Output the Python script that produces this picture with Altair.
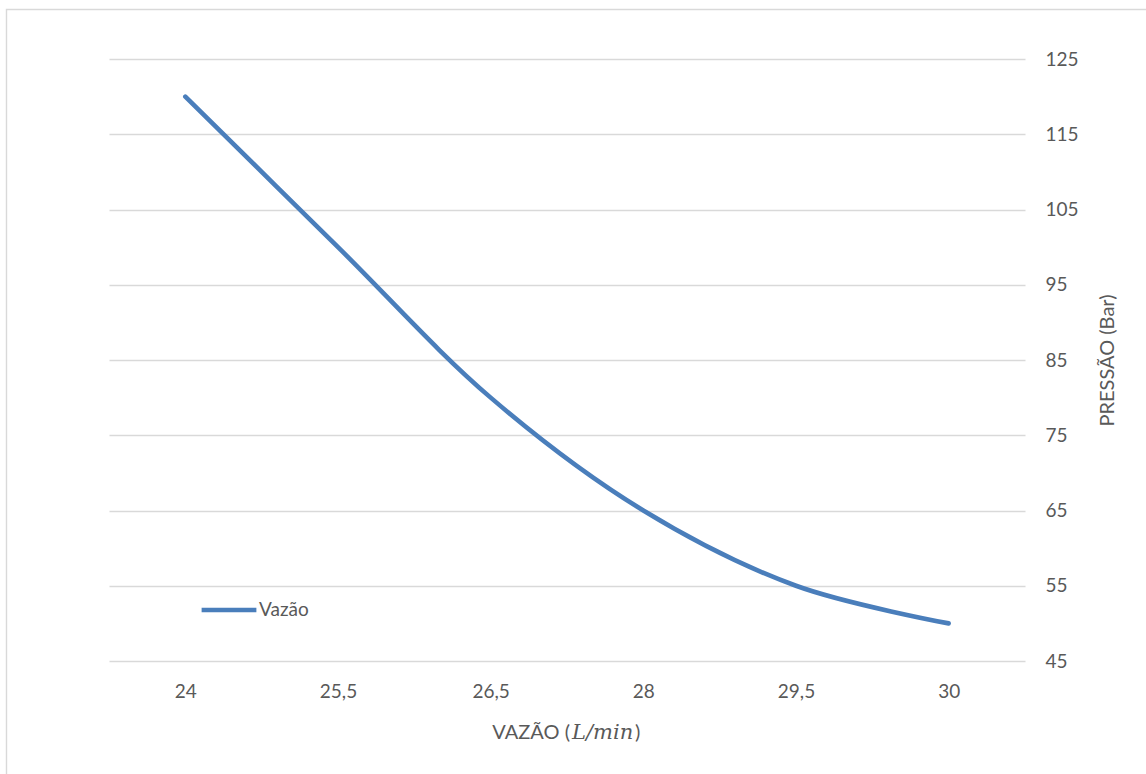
import altair as alt
import pandas as pd

# Flow (L/min) categories and measured pressure (bar)
vazao = ["24", "25,5", "26,5", "28", "29,5", "30"]
pressao = [120, 100, 80, 65, 55, 50]
serie = ["Vazão"] * len(vazao)
y_ticks = [45, 55, 65, 75, 85, 95, 105, 115, 125]

W, H = 916, 602
TXT = "#595959"
GRID = "#d9d9d9"
FONT = "Lato"

df = pd.DataFrame({"vazao": vazao, "pressao": pressao, "serie": serie})

line = alt.Chart(df).mark_line(
    interpolate="catmull-rom", strokeWidth=4.6, strokeCap="round", strokeJoin="round"
).encode(
    x=alt.X(
        "vazao:N",
        sort=vazao,
        scale=alt.Scale(type="point", padding=0.5),
        axis=alt.Axis(
            title=None, labelAngle=0, ticks=False, tickSize=0, domain=False, grid=False,
            labelFont=FONT, labelFontSize=19, labelColor=TXT, labelPadding=21,
        ),
    ),
    y=alt.Y(
        "pressao:Q",
        scale=alt.Scale(domain=[45, 125], nice=False, zero=False),
        axis=alt.Axis(
            orient="right", values=y_ticks, ticks=False, tickSize=0, domain=False,
            grid=True, gridColor=GRID, gridWidth=1.4,
            labelFont=FONT, labelFontSize=19, labelColor=TXT, labelPadding=20,
            title="PRESSÃO (Bar)", titleFont=FONT, titleFontSize=20, titleFontWeight="normal",
            titleColor=TXT, titleAngle=270, titleX=82, titleY=H / 2,
            titleAlign="center", titleBaseline="middle",
        ),
    ),
    color=alt.Color(
        "serie:N",
        scale=alt.Scale(range=["#4a7ebb"]),
        legend=alt.Legend(
            title=None, orient="none", legendX=90, legendY=521,
            symbolType="stroke", symbolSize=3000, symbolStrokeWidth=4.6,
            labelFont=FONT, labelFontSize=19, labelColor=TXT, labelOffset=0,
            padding=0,
        ),
    ),
)

# Outer chart-area frame
frame = alt.Chart(pd.DataFrame({"k": [0]})).mark_rect(
    fill=None, stroke=GRID, strokeWidth=1.4
).encode(
    x=alt.value(-102.5), x2=alt.value(W + 300),
    y=alt.value(-49.5), y2=alt.value(H + 300),
)

# X-axis title: plain text with the unit set in italic math style
title_df = pd.DataFrame({"k": [0]})
t1 = alt.Chart(title_df).mark_text(
    text="VAZÃO (", font=FONT, fontSize=20, color=TXT, align="right", baseline="middle"
).encode(x=alt.value(461), y=alt.value(674))
t2 = alt.Chart(title_df).mark_text(
    text="L/min", font="DejaVu Serif", fontStyle="italic", fontSize=21, color=TXT,
    align="left", baseline="middle"
).encode(x=alt.value(463), y=alt.value(674))
t3 = alt.Chart(title_df).mark_text(
    text=")", font=FONT, fontSize=20, color=TXT, align="left", baseline="middle"
).encode(x=alt.value(526), y=alt.value(674))

chart = alt.layer(frame, line, t1, t2, t3).properties(
    width=W, height=H,
    autosize=alt.AutoSizeParams(type="none"),
    padding={"left": 109, "top": 59, "right": 121, "bottom": 113},
).configure(background="white").configure_view(stroke=None, strokeWidth=0)

chart.save("out.html", embed_options={"renderer": "svg", "actions": False})
